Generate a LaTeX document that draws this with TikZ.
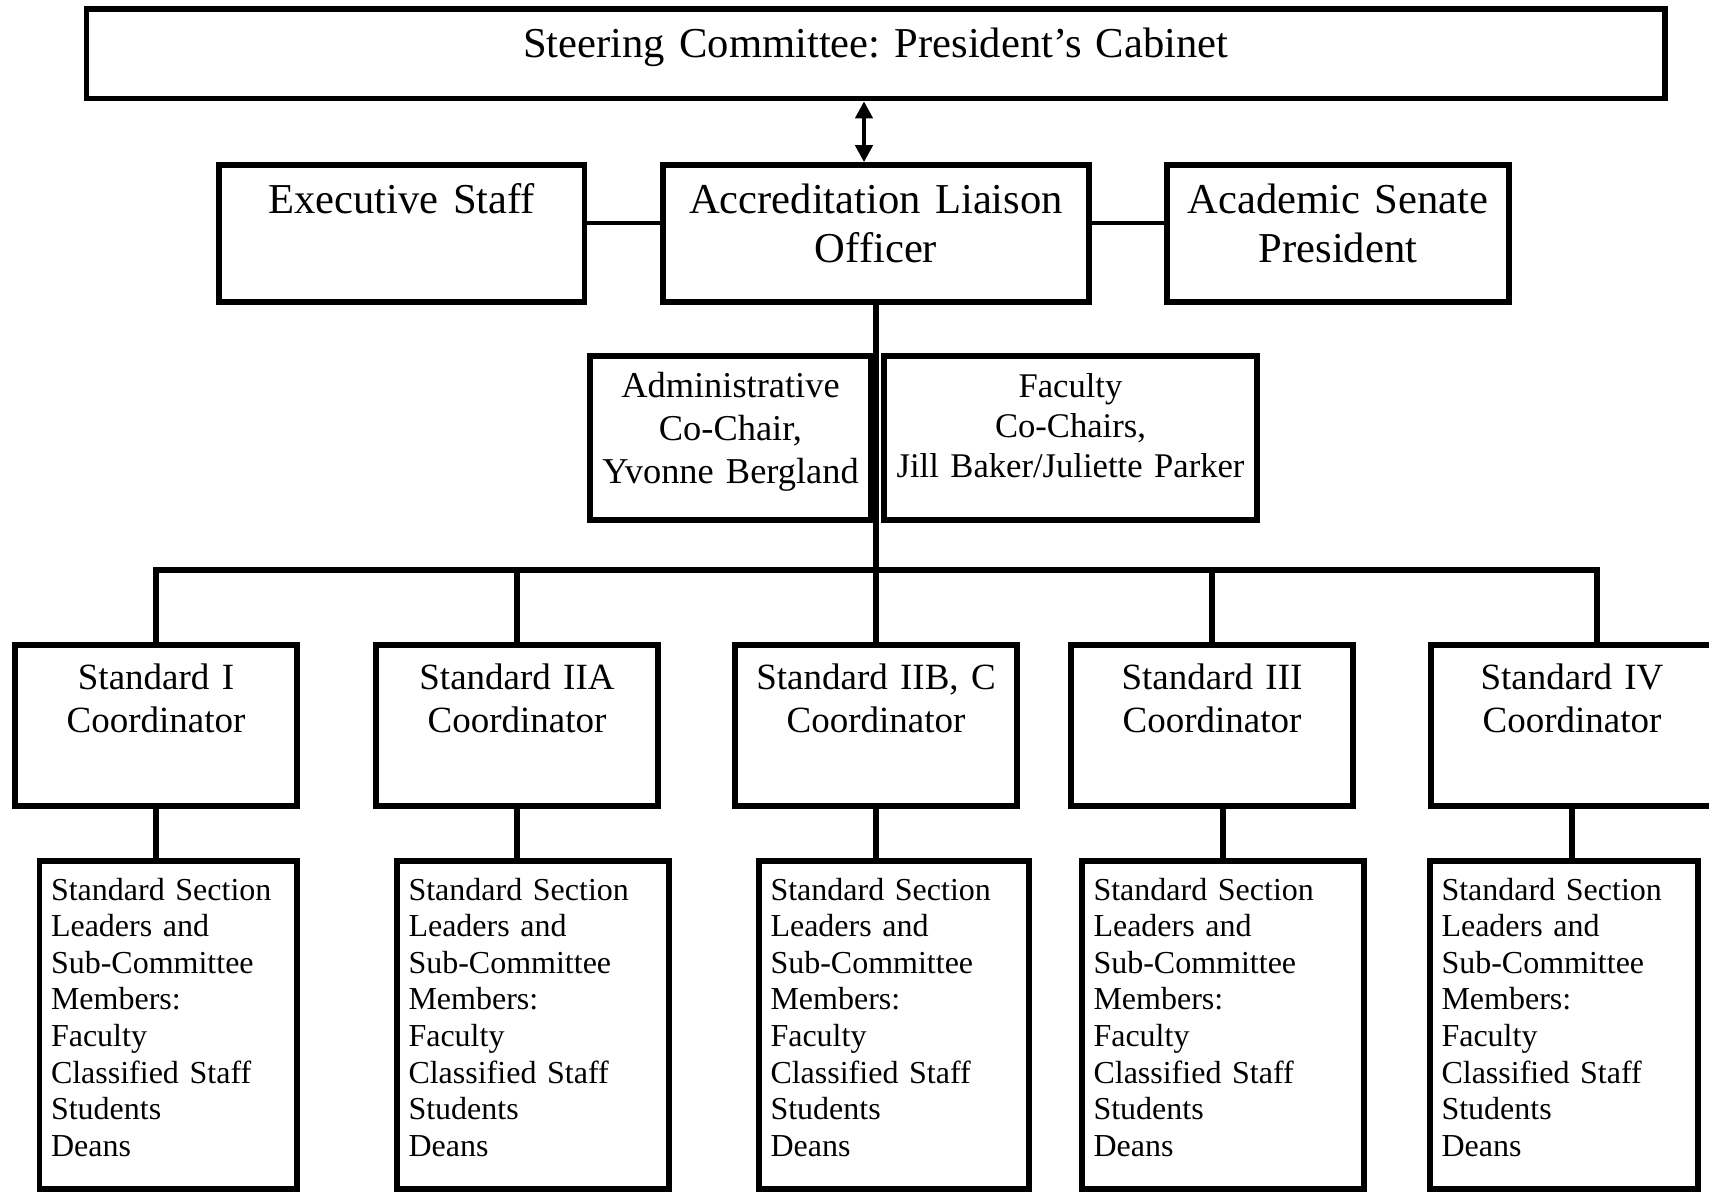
\documentclass[tikz,border=0pt]{standalone}
\usepackage{fontspec}
\setmainfont{Liberation Serif}
\usetikzlibrary{arrows.meta}
\frenchspacing
\begin{document}
\begin{tikzpicture}[x=0.5pt,y=-0.5pt]
\tikzset{box/.style={draw, line width=2.8pt, inner sep=0pt, outer sep=0pt, anchor=north, align=center},
link/.style={line width=2.8pt},
headbox/.style={box, font=\fontsize{21.3pt}{24.5pt}\selectfont, text height=24pt, text depth=44.5pt},
chairbox/.style={box, text height=20.5pt, text depth=61.5pt},
coordbox/.style={box, text width=141pt, font=\fontsize{18.5pt}{21.25pt}\selectfont, text height=22.25pt, text depth=58.25pt},
secbox/.style={box, align=left, inner xsep=5.75pt, font=\fontsize{16pt}{18.3pt}\selectfont, text height=19.5pt, text depth=144.5pt}}
\useasboundingbox (0,0) rectangle (1709,1191);

\node[box, text width=789.25pt, font=\fontsize{21.3pt}{24.5pt}\selectfont, text height=24.4pt, text depth=20.35pt] (steer) at (875.75,9) {Steering Committee: President's Cabinet};

\node[headbox, text width=182.75pt] (exec) at (401.75,165) {Executive Staff};
\node[headbox, text width=213pt] (alo) at (876,165) {Accreditation Liaison\\Officer};
\node[headbox, text width=171pt] (asp) at (1338,165) {Academic Senate\\President};

\node[chairbox, text width=140.5pt, font=\fontsize{18.2pt}{21.5pt}\selectfont] (admin) at (730.5,356) {Administrative\\Co-Chair,\\Yvonne Bergland};
\node[chairbox, text width=186.5pt, font=\fontsize{17.3pt}{20pt}\selectfont] (fac) at (1070.5,356) {Faculty\\Co-Chairs,\\Jill Baker/Juliette Parker};

\foreach \n/\x/\t in {c1/156/Standard I, c2/517/Standard IIA, c3/876/{Standard IIB, C}, c4/1212/Standard III, c5/1572/Standard IV}
\node[coordbox] (\n) at (\x,645) {\t\\Coordinator};

\foreach \n/\x/\w in {s1/168.25/117.25, s2/533/124.5, s3/894/123.5, s4/1223/129.5, s5/1564/122.5}
\node[secbox, text width=\w pt] (\n) at (\x,861) {Standard Section\\Leaders and\\Sub-Committee\\Members:\\Faculty\\Classified Staff\\Students\\Deans};

\coordinate (ax) at (864,0);
\coordinate (lk) at (0,223);
\coordinate (bus) at (876,570);
\coordinate (c5drop) at (1597,0);

\draw[line width=2.2pt, {Triangle[length=8.5pt,width=8.5pt]}-{Triangle[length=8.5pt,width=8.5pt]}, shorten <=1.4pt, shorten >=1.4pt] (steer.south -| ax) -- (alo.north -| ax);
\draw[link, line width=2.2pt] (exec.east |- lk) -- (alo.west |- lk);
\draw[link, line width=2.2pt] (alo.east |- lk) -- (asp.west |- lk);

\draw[link] (alo.south) -- (c3.north);
\draw[link] (c1.north) |- (bus) -| (c5.north -| c5drop);
\draw[link] (c2.north) -- (c2.north |- bus);
\draw[link] (c4.north) -- (c4.north |- bus);

\foreach \i in {1,2,3,5}
\draw[link] (c\i.south) -- (c\i.south |- s\i.north);
\draw[link] (s4.north |- c4.south) -- (s4.north);
\end{tikzpicture}
\end{document}
